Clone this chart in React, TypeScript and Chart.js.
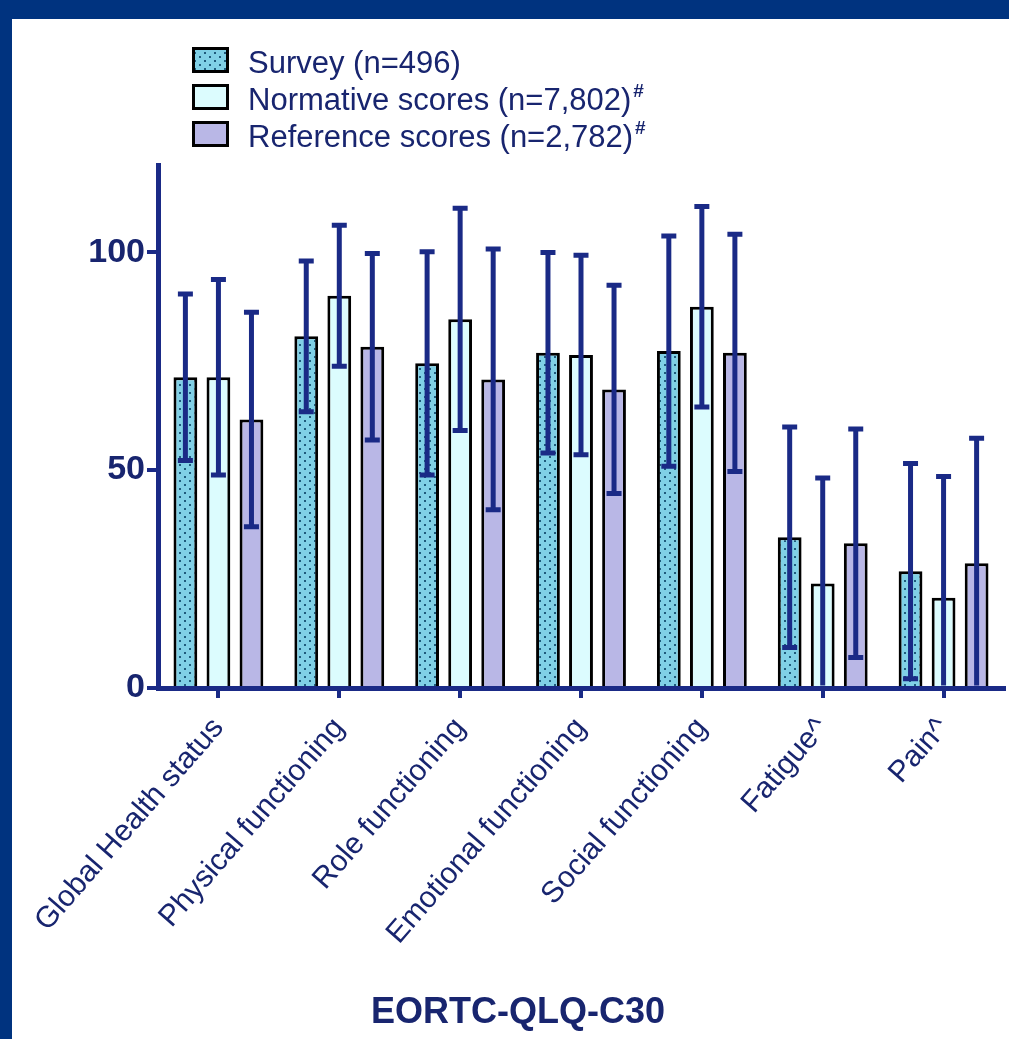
import { useEffect, useRef } from "react";
import { Chart, registerables } from "chart.js";

Chart.register(...registerables);

const categories = [
  "Global Health status",
  "Physical functioning",
  "Role functioning",
  "Emotional functioning",
  "Social functioning",
  "Fatigue^",
  "Pain^",
];

const surveyMean = [71.3, 80.7, 74.5, 76.9, 77.3, 34.6, 26.8];
const surveySd = [19.1, 17.3, 25.6, 23.0, 26.4, 25.3, 24.7];
const normativeMean = [71.3, 90.0, 84.6, 76.4, 87.5, 24.0, 20.7];
const normativeSd = [22.4, 16.2, 25.5, 22.9, 23.0, 24.2, 27.8];
const referenceMean = [61.6, 78.3, 70.8, 68.5, 76.9, 33.2, 28.6];
const referenceSd = [24.6, 21.4, 29.9, 23.9, 27.2, 26.2, 28.7];

const legendLabels = ["Survey (n=496)", "Normative scores (n=7,802)", "Reference scores (n=2,782)"];
const legendSup = ["", "#", "#"];
const yTicks = [0, 50, 100];
const axisTitle = "EORTC-QLQ-C30";

const NAVY = "#1a2a86";
const TEXT = "#18256f";
const FONT = "'Liberation Sans', Arial, sans-serif";

function dotPattern(): CanvasPattern | string {
  const c = document.createElement("canvas");
  c.width = 10;
  c.height = 8;
  const g = c.getContext("2d");
  if (!g) return "#80d0e6";
  g.fillStyle = "#80d0e6";
  g.fillRect(0, 0, 10, 8);
  g.fillStyle = "#1f5b7c";
  g.fillRect(2, 1, 2, 2);
  g.fillRect(7, 5, 2, 2);
  return g.createPattern(c, "repeat") || "#80d0e6";
}

export default function App() {
  const canvasRef = useRef<HTMLCanvasElement>(null);

  useEffect(() => {
    if (!canvasRef.current) return;
    const pattern = dotPattern();
    const fills = [pattern, "#dcfcfe", "#b9b7e6"];
    const sds = [surveySd, normativeSd, referenceSd];

    const errorBars = {
      id: "errorBars",
      afterDatasetsDraw(chart: any) {
        const { ctx, chartArea, scales } = chart;
        const y = scales.y;
        ctx.save();
        ctx.beginPath();
        ctx.rect(
          chartArea.left,
          chartArea.top - 20,
          chartArea.right - chartArea.left,
          chartArea.bottom - chartArea.top + 20 - 2.5
        );
        ctx.clip();
        ctx.strokeStyle = NAVY;
        ctx.lineWidth = 5;
        chart.data.datasets.forEach((ds: any, i: number) => {
          chart.getDatasetMeta(i).data.forEach((bar: any, j: number) => {
            const m = ds.data[j];
            const top = y.getPixelForValue(m + sds[i][j]);
            const bot = y.getPixelForValue(m - sds[i][j]);
            ctx.beginPath();
            ctx.moveTo(bar.x, top);
            ctx.lineTo(bar.x, bot);
            ctx.moveTo(bar.x - 7.5, top);
            ctx.lineTo(bar.x + 7.5, top);
            ctx.moveTo(bar.x - 7.5, bot);
            ctx.lineTo(bar.x + 7.5, bot);
            ctx.stroke();
          });
        });
        ctx.restore();
      },
    };

    const legend = {
      id: "boxLegend",
      afterDraw(chart: any) {
        const ctx = chart.ctx;
        ctx.save();
        legendLabels.forEach((label, i) => {
          const top = 28 + i * 37;
          ctx.fillStyle = fills[i];
          ctx.fillRect(180, top, 37, 26);
          ctx.strokeStyle = "#000";
          ctx.lineWidth = 3;
          ctx.strokeRect(181.5, top + 1.5, 34, 23);
          ctx.fillStyle = TEXT;
          ctx.font = `31px ${FONT}`;
          ctx.textBaseline = "alphabetic";
          ctx.textAlign = "left";
          ctx.fillText(label, 236, top + 26);
          if (legendSup[i]) {
            const w = ctx.measureText(label).width;
            ctx.font = `bold 19px ${FONT}`;
            ctx.fillText(legendSup[i], 236 + w + 2, top + 13);
          }
        });
        ctx.font = `bold 36px ${FONT}`;
        ctx.textAlign = "center";
        ctx.textBaseline = "middle";
        ctx.fillText(axisTitle, 506, 994);
        ctx.restore();
      },
    };

    const chart = new Chart(canvasRef.current, {
      type: "bar",
      data: {
        labels: categories,
        datasets: [surveyMean, normativeMean, referenceMean].map((d, i) => ({
          label: legendLabels[i],
          data: d,
          backgroundColor: fills[i] as any,
          borderColor: "#000",
          borderWidth: 3,
          borderSkipped: "start" as const,
          categoryPercentage: 0.82,
          barPercentage: 0.72,
        })),
      },
      options: {
        animation: false,
        responsive: true,
        maintainAspectRatio: false,
        layout: { padding: { top: 146, right: 5, left: 0, bottom: 0 } },
        plugins: {
          legend: { display: false },
          tooltip: { enabled: false },
        },
        scales: {
          x: {
            grid: {
              offset: false,
              drawOnChartArea: false,
              drawTicks: true,
              tickLength: 10,
              color: NAVY,
              lineWidth: 4,
            },
            border: { color: NAVY, width: 5 },
            ticks: {
              color: TEXT,
              font: { family: FONT, size: 30 },
              minRotation: 49,
              maxRotation: 49,
              padding: 13,
              autoSkip: false,
            },
            afterFit: (scale: any) => {
              scale.height = 351;
              scale.paddingLeft = 0;
              scale.paddingRight = 0;
            },
          },
          y: {
            min: 0,
            max: 120,
            afterBuildTicks: (scale: any) => {
              scale.ticks = yTicks.map((v) => ({ value: v }));
            },
            grid: {
              drawOnChartArea: false,
              drawTicks: true,
              tickLength: 11,
              color: NAVY,
              lineWidth: 4,
            },
            border: { color: NAVY, width: 5 },
            ticks: {
              color: TEXT,
              font: { family: FONT, size: 34, weight: "bold" },
              padding: 2,
            },
            afterFit: (scale: any) => {
              scale.width = 146;
            },
          },
        },
      },
      plugins: [errorBars, legend],
    });

    return () => chart.destroy();
  }, []);

  return (
    <div
      style={{
        position: "absolute",
        left: 0,
        top: 0,
        width: 1009,
        height: 1039,
        background: "#00337f",
      }}
    >
      <div
        style={{
          position: "absolute",
          left: 12,
          top: 19,
          width: 997,
          height: 1020,
          background: "#fff",
        }}
      >
        <canvas ref={canvasRef} />
      </div>
    </div>
  );
}
